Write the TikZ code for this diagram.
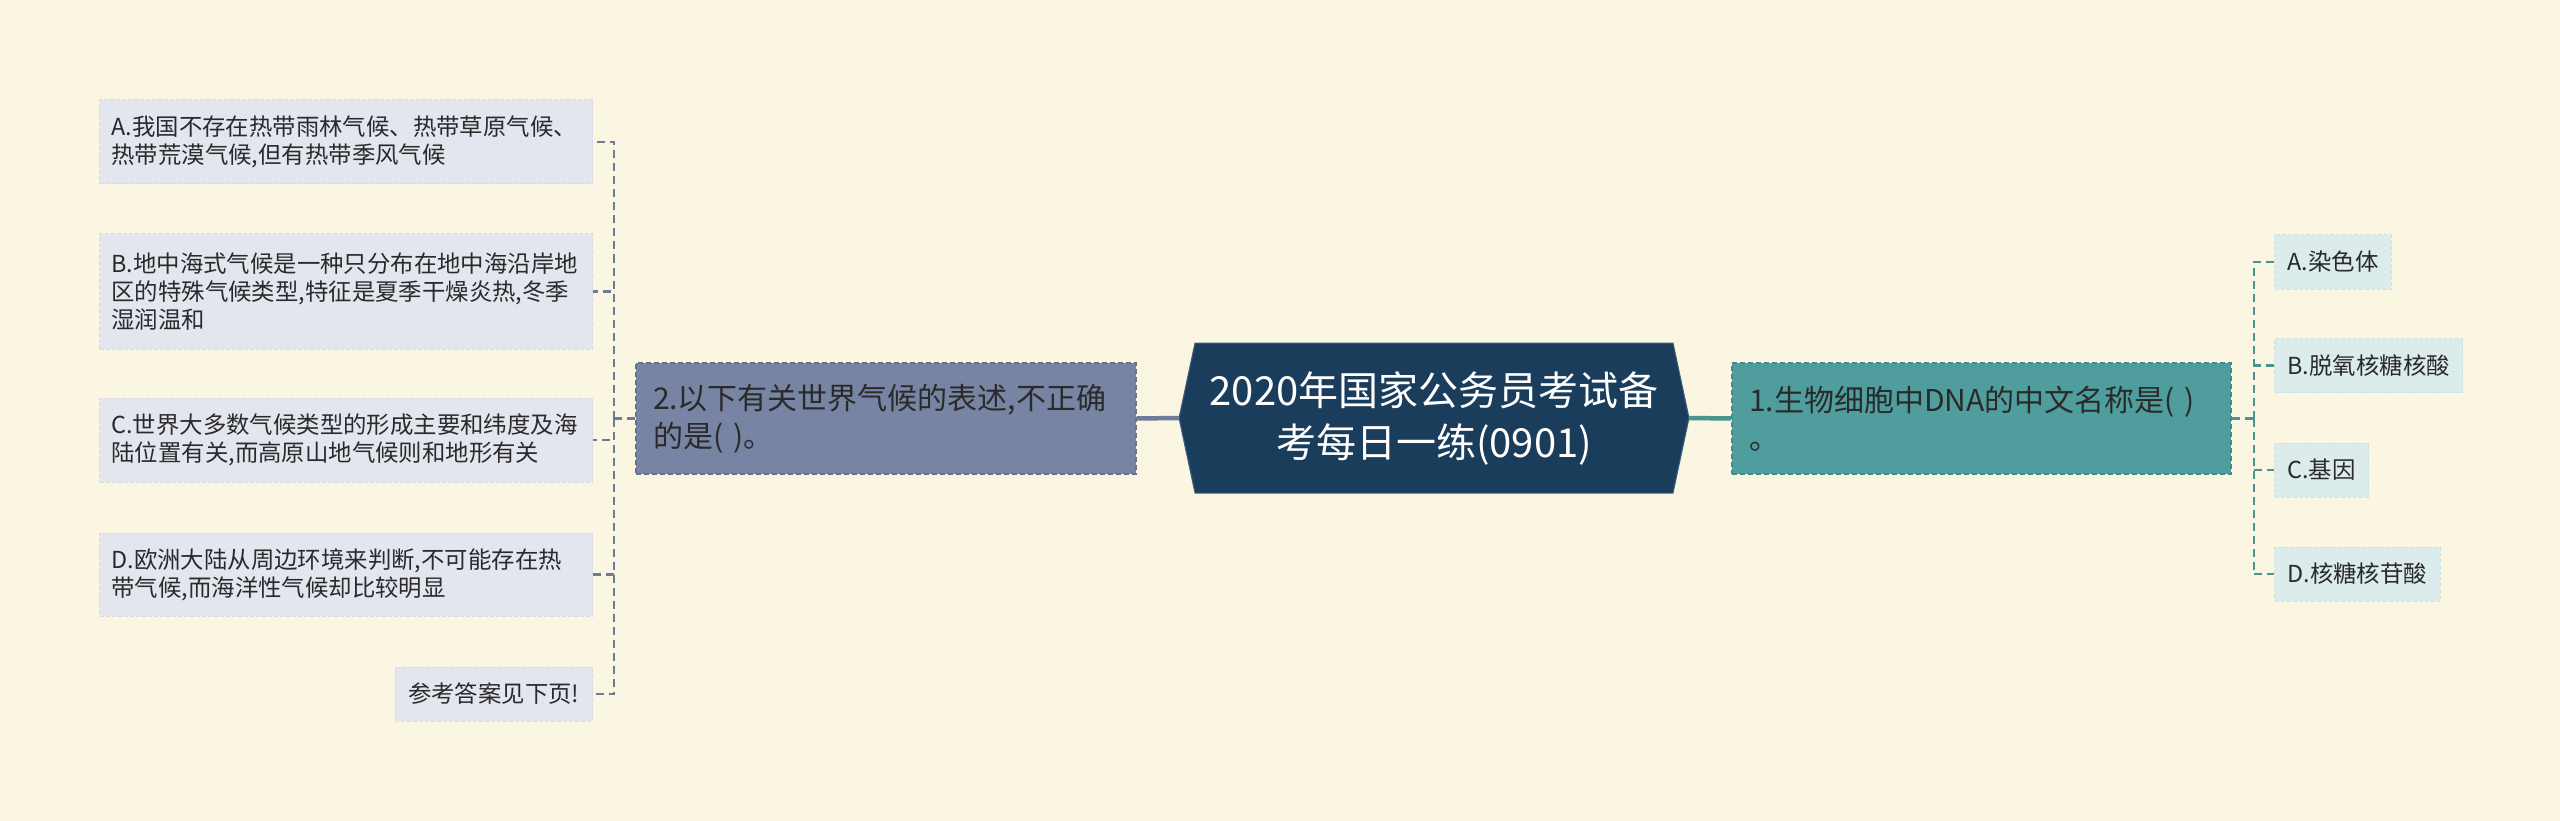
\documentclass[tikz,border=0pt]{standalone}
\usepackage{fontspec}
\setmainfont{Noto Sans CJK SC}
\definecolor{bgc}{HTML}{FBF6E1}
\definecolor{cfill}{HTML}{1B3D5C}
\definecolor{cline}{HTML}{3F5F7E}
\definecolor{lmfill}{HTML}{7884A3}
\definecolor{lmline}{HTML}{66738F}
\definecolor{rmfill}{HTML}{4F9D9D}
\definecolor{rmline}{HTML}{428C8B}
\definecolor{llfill}{HTML}{E3E6EE}
\definecolor{llline}{HTML}{D6DAE5}
\definecolor{rlfill}{HTML}{DCEBEB}
\definecolor{rlline}{HTML}{CDE2E2}
\definecolor{lcon}{HTML}{6E7B98}
\definecolor{rcon}{HTML}{4A9490}
\definecolor{txtc}{HTML}{2A2A2A}
\begin{document}
\begin{tikzpicture}[x=1pt,y=-1pt,
  mainbox/.style={draw, dashed, dash pattern=on 5pt off 3pt, line width=1.5pt,
    inner xsep=17pt, inner ysep=0pt, align=left, text=txtc,
    font=\fontsize{30}{38}\selectfont, minimum height=111pt},
  lleaf/.style={fill=llfill, draw=llline, dash pattern=on 4pt off 2pt, line width=1pt,
    inner xsep=12pt, inner ysep=0pt, align=left, text=txtc, anchor=east,
    font=\fontsize{23.4}{28}\selectfont},
  rleaf/.style={fill=rlfill, draw=rlline, dash pattern=on 4pt off 2pt, line width=1pt,
    inner xsep=13pt, inner ysep=0pt, align=left, text=txtc, anchor=west,
    minimum height=54pt, font=\fontsize{23.4}{28}\selectfont},
  ldash/.style={draw=lcon, line width=2.4pt, dash pattern=on 8pt off 5pt},
  rdash/.style={draw=rcon, line width=2.4pt, dash pattern=on 8pt off 5pt}]
\fill[bgc] (0,0) rectangle (2560,821);
\useasboundingbox (0,0) rectangle (2560,821);

% central topic
\fill[cfill, draw=cline, line width=1pt] (1195,343) -- (1673,343) -- (1689,418) -- (1673,493)
  -- (1195,493) -- (1179,418) -- cycle;
\node[minimum width=510pt, minimum height=150pt, inner sep=0pt, align=center, text=white,
  font=\fontsize{40}{52}\selectfont] (c) at (1434,418)
  {2020年国家公务员考试备\\考每日一练(0901)};

% main branches
\node[mainbox, fill=lmfill, draw=lmline, text width=466pt] (lm) at (886,418.5)
  {2.以下有关世界气候的表述,不正确\\的是( )。};
\node[mainbox, fill=rmfill, draw=rmline, text width=465pt] (rm) at (1981.5,418.5)
  {1.生物细胞中DNA的中文名称是( )\\。};

% left leaves
\node[lleaf, text width=469pt, minimum height=84pt] (la) at (593,142)
  {A.我国不存在热带雨林气候、热带草原气候、\\热带荒漠气候,但有热带季风气候};
\node[lleaf, text width=469pt, minimum height=115pt] (lb) at (593,291.5)
  {B.地中海式气候是一种只分布在地中海沿岸地\\区的特殊气候类型,特征是夏季干燥炎热,冬季\\湿润温和};
\node[lleaf, text width=469pt, minimum height=84pt] (lc) at (593,440)
  {C.世界大多数气候类型的形成主要和纬度及海\\陆位置有关,而高原山地气候则和地形有关};
\node[lleaf, text width=469pt, minimum height=83pt] (ld) at (593,574.5)
  {D.欧洲大陆从周边环境来判断,不可能存在热\\带气候,而海洋性气候却比较明显};
\node[lleaf, inner xsep=13pt, minimum height=54pt] (le) at (593,694)
  {参考答案见下页!};

% right leaves
\node[rleaf] (ra) at (2274,262) {A.染色体};
\node[rleaf] (rb) at (2274,365.5) {B.脱氧核糖核酸};
\node[rleaf] (rc) at (2274,470) {C.基因};
\node[rleaf] (rd) at (2274,574) {D.核糖核苷酸};

% connectors
\draw[lcon, line width=4.5pt] (c.west) -- (lm.east);
\draw[rcon, line width=4.5pt] (c.east) -- (rm.west);

\draw[ldash] (lm.west) -- ++(-21,0) coordinate (lj);
\draw[ldash] (lj) |- (la.east);
\draw[ldash] (lj) |- (lb.east);
\draw[ldash] (lj) |- (lc.east);
\draw[ldash] (lj) |- (ld.east);
\draw[ldash] (lj) |- (le.east);

\draw[rdash] (rm.east) -- ++(22,0) coordinate (rj);
\draw[rdash] (rj) |- (ra.west);
\draw[rdash] (rj) |- (rb.west);
\draw[rdash] (rj) |- (rc.west);
\draw[rdash] (rj) |- (rd.west);
\end{tikzpicture}
\end{document}
